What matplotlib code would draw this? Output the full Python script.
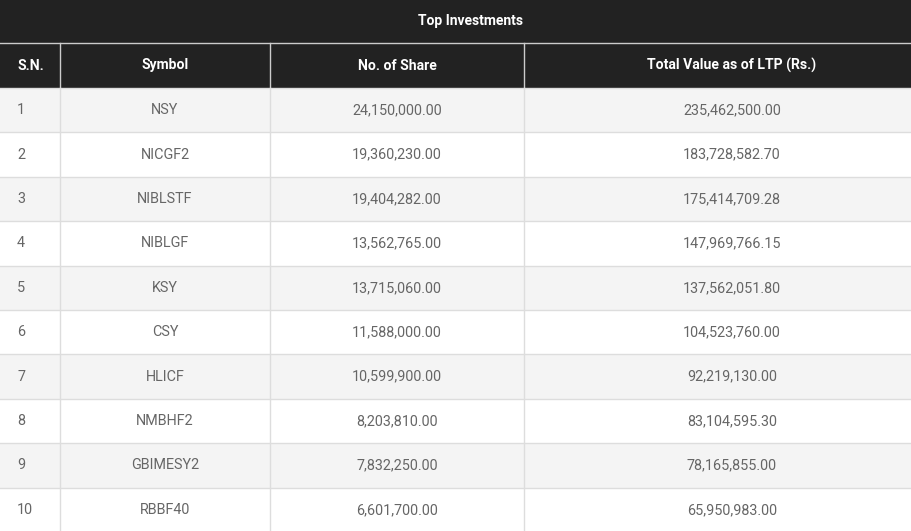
import matplotlib
matplotlib.use("Agg")
import matplotlib.pyplot as plt
from matplotlib.patches import Rectangle

plt.rcParams['font.family'] = ['Roboto', 'DejaVu Sans']

# table data
title = "Top Investments"
columns = ["S.N.", "Symbol", "No. of Share", "Total Value as of LTP (Rs.)"]
serial = [1, 2, 3, 4, 5, 6, 7, 8, 9, 10]
symbols = ["NSY", "NICGF2", "NIBLSTF", "NIBLGF", "KSY", "CSY", "HLICF",
           "NMBHF2", "GBIMESY2", "RBBF40"]
shares = [24150000.00, 19360230.00, 19404282.00, 13562765.00, 13715060.00,
          11588000.00, 10599900.00, 8203810.00, 7832250.00, 6601700.00]
total_value = [235462500.00, 183728582.70, 175414709.28, 147969766.15,
               137562051.80, 104523760.00, 92219130.00, 83104595.30,
               78165855.00, 65950983.00]

W, H = 911, 531
# the table is a bit wider than the visible area (cut at the right)
table_w = 940
col_edges = [0, 60, 270, 524, table_w]
title_h = 43
head_h = 45
row_h = 44.4

dark = '#222222'
stripe = '#f4f4f4'
grid = '#dddddd'
text_c = '#666666'

fig = plt.figure(figsize=(W / 100, H / 100), dpi=100)
ax = fig.add_axes([0, 0, 1, 1])
ax.set_xlim(0, W)
ax.set_ylim(H, 0)
ax.axis('off')

# title band
ax.add_patch(Rectangle((0, 0), table_w, title_h, color=dark, lw=0))
ax.text(table_w / 2, title_h / 2, title, color='white', fontsize=10,
        fontweight='bold', ha='center', va='center')

# header row
y0 = title_h
ax.add_patch(Rectangle((0, y0), table_w, head_h, color=dark, lw=0))
ax.plot([0, table_w], [y0, y0], color='#cccccc', lw=1)
for i, name in enumerate(columns):
    x_l, x_r = col_edges[i], col_edges[i + 1]
    if i == 0:
        ax.text(17, y0 + head_h / 2, name, color='white', fontsize=10.1,
                fontweight='bold', ha='left', va='center')
    else:
        ax.text((x_l + x_r) / 2, y0 + head_h / 2, name, color='white',
                fontsize=10.1, fontweight='bold', ha='center', va='center')
for x in col_edges[1:-1]:
    ax.plot([x, x], [y0, y0 + head_h], color='#cccccc', lw=1)

# body rows
y_body = y0 + head_h
for r in range(len(serial)):
    top = y_body + r * row_h
    fc = stripe if r % 2 == 0 else 'white'
    ax.add_patch(Rectangle((0, top), table_w, row_h, color=fc, lw=0))
    ax.plot([0, table_w], [top, top], color=grid, lw=1)
    yc = top + row_h / 2
    cells = [str(serial[r]), symbols[r], f"{shares[r]:,.2f}",
             f"{total_value[r]:,.2f}"]
    for i, s in enumerate(cells):
        x_l, x_r = col_edges[i], col_edges[i + 1]
        if i == 0:
            ax.text(17, yc, s, color=text_c, fontsize=10.4, ha='left',
                    va='center')
        else:
            ax.text((x_l + x_r) / 2, yc, s, color=text_c, fontsize=10.4,
                    ha='center', va='center')

for x in col_edges[1:-1]:
    ax.plot([x, x], [y_body, H], color=grid, lw=1)

fig.savefig('out.png', dpi=100)
